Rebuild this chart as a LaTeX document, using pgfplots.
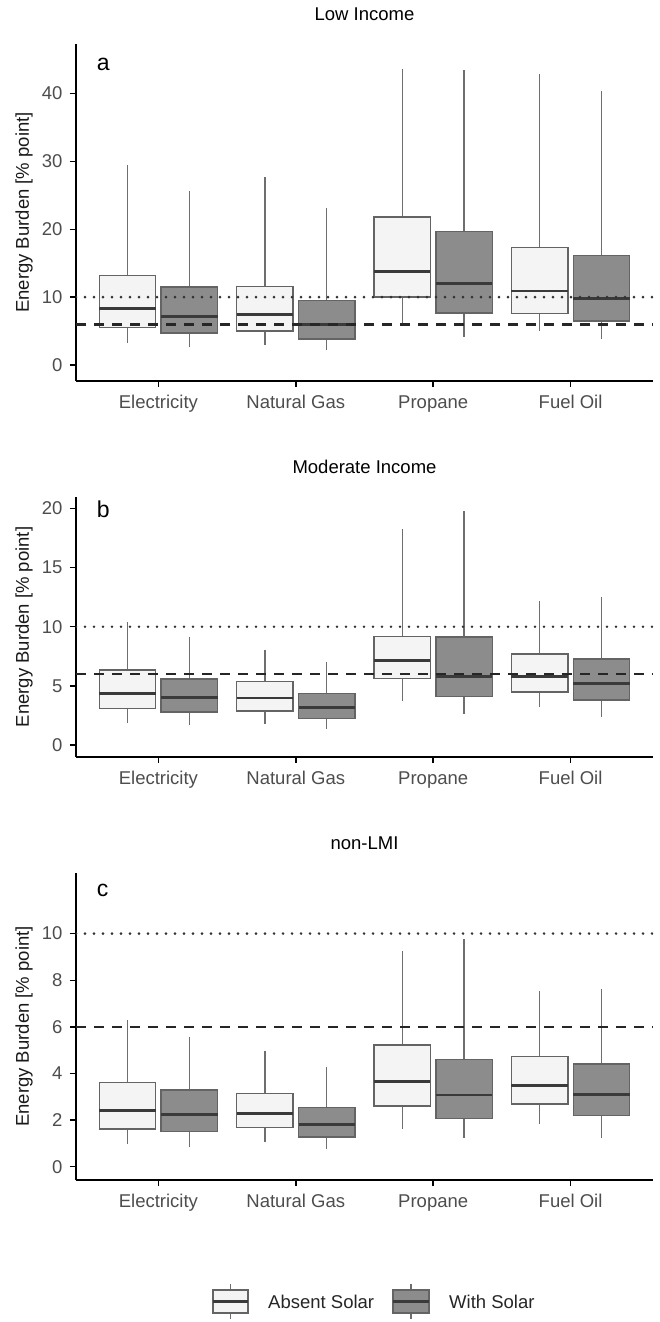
\documentclass[border=0pt]{standalone}
\usepackage{pgfplots}
\pgfplotsset{compat=1.18}
\usepgfplotslibrary{statistics}
\usepackage{fontspec}
\setmainfont{Liberation Sans}
\definecolor{absentfill}{RGB}{244,244,244}
\definecolor{withfill}{RGB}{140,140,140}
\definecolor{boxline}{RGB}{100,100,100}
\definecolor{medline}{RGB}{58,58,58}
\definecolor{whisk}{RGB}{110,110,110}
\definecolor{ticktext}{RGB}{77,77,77}

% \bx{draw position}{lower whisker}{lower quartile}{median}{upper quartile}{upper whisker}{fill}
\newcommand{\bx}[7]{%
  \addplot[boxplot prepared={draw position=#1, lower whisker=#2,
    lower quartile=#3, median=#4, upper quartile=#5, upper whisker=#6},
    boxplot/every box/.append style={fill=#7}] coordinates {};}
\newcommand{\refs}{%
  \addplot[refdot] coordinates {(0.4,10) (4.6,10)};
  \addplot[refdash] coordinates {(0.4,6) (4.6,6)};}

\pgfplotsset{
  panel/.style={
    scale only axis, width=577pt,
    xmin=0.4, xmax=4.6,
    axis x line=bottom, axis y line=left,
    axis line style={-, line width=1.6pt, black},
    xtick={1,2,3,4},
    xticklabels={Electricity,Natural Gas,Propane,Fuel Oil},
    tick align=outside, major tick length=6pt,
    tick style={line width=1.4pt, black},
    ticklabel style={font=\fontsize{18.5}{21}\selectfont, text=ticktext},
    /pgf/number format/assume math mode=true,
    xticklabel style={yshift=-5pt},
    yticklabel style={xshift=-4pt},
    ylabel={Energy Burden [\% point]},
    ylabel style={at={(axis description cs:-0.090,0.5)}, anchor=center,
      font=\fontsize{18.5}{21}\selectfont, text=black!90},
    title style={at={(axis description cs:0.5,1)}, anchor=center, yshift=24pt,
      font=\fontsize{18.5}{21}\selectfont, text=black},
    boxplot/draw direction=y,
    boxplot/every box/.style={draw=boxline, line width=1.4pt},
    boxplot/every whisker/.style={draw=whisk, line width=1.3pt},
    boxplot/every median/.style={draw=medline, line width=2.8pt},
    boxplot/whisker extend=0,
    boxplot/box extend=0.41,
  },
  refdot/.style={line width=2.8pt, black!80, dash pattern=on 0pt off 9pt, line cap=round},
  refdash/.style={line width=2.5pt, black!85, dash pattern=on 10pt off 8pt},
}

\begin{document}
\begin{tikzpicture}
\useasboundingbox (0,0) rectangle (659pt,1322pt);

\begin{axis}[panel, at={(76pt,941pt)}, anchor=south west, height=337pt,
  ymin=-2.36, ymax=47.3, ytick={0,10,20,30,40}, title={Low Income}]
\bx{0.775}{3.2}{5.5}{8.3}{13.2}{29.4}{absentfill}
\bx{1.225}{2.6}{4.7}{7.1}{11.5}{25.6}{withfill}
\bx{1.775}{3.0}{5.0}{7.45}{11.6}{27.7}{absentfill}
\bx{2.225}{2.2}{3.8}{6.0}{9.5}{23.2}{withfill}
\bx{2.775}{6.0}{10.0}{13.8}{21.8}{43.6}{absentfill}
\bx{3.225}{4.1}{7.65}{12.0}{19.7}{43.5}{withfill}
\bx{3.775}{5.0}{7.55}{10.9}{17.3}{42.9}{absentfill}
\bx{4.225}{3.9}{6.5}{9.75}{16.1}{40.3}{withfill}
\refs
\node[anchor=base west, inner sep=0pt, font=\fontsize{23}{26}\selectfont]
  at (axis description cs:0.036,0.922) {a};
\end{axis}

\begin{axis}[panel, at={(76pt,565pt)}, anchor=south west, height=260pt,
  ymin=-1.01, ymax=20.96, ytick={0,5,10,15,20}, title={Moderate Income}]
\bx{0.775}{1.9}{3.1}{4.37}{6.34}{10.4}{absentfill}
\bx{1.225}{1.66}{2.8}{4.0}{5.58}{9.1}{withfill}
\bx{1.775}{1.77}{2.87}{3.97}{5.38}{8.06}{absentfill}
\bx{2.225}{1.32}{2.23}{3.18}{4.34}{6.99}{withfill}
\bx{2.775}{3.72}{5.63}{7.15}{9.15}{18.25}{absentfill}
\bx{3.225}{2.65}{4.08}{5.77}{9.13}{19.8}{withfill}
\bx{3.775}{3.18}{4.48}{5.77}{7.69}{12.2}{absentfill}
\bx{4.225}{2.34}{3.8}{5.18}{7.27}{12.5}{withfill}
\refs
\node[anchor=base west, inner sep=0pt, font=\fontsize{23}{26}\selectfont]
  at (axis description cs:0.036,0.922) {b};
\end{axis}

\begin{axis}[panel, at={(76pt,142pt)}, anchor=south west, height=307pt,
  ymin=-0.57, ymax=12.6, ytick={0,2,4,6,8,10}, title={non-LMI}]
\bx{0.775}{0.96}{1.62}{2.42}{3.6}{6.3}{absentfill}
\bx{1.225}{0.86}{1.5}{2.25}{3.29}{5.55}{withfill}
\bx{1.775}{1.04}{1.67}{2.29}{3.15}{4.98}{absentfill}
\bx{2.225}{0.74}{1.27}{1.82}{2.55}{4.26}{withfill}
\bx{2.775}{1.63}{2.6}{3.66}{5.22}{9.27}{absentfill}
\bx{3.225}{1.22}{2.06}{3.08}{4.61}{9.76}{withfill}
\bx{3.775}{1.83}{2.69}{3.5}{4.72}{7.54}{absentfill}
\bx{4.225}{1.22}{2.2}{3.1}{4.41}{7.61}{withfill}
\refs
\node[anchor=base west, inner sep=0pt, font=\fontsize{23}{26}\selectfont]
  at (axis description cs:0.036,0.922) {c};
\end{axis}

% legend
\draw[whisk, line width=1.3pt] (230.5pt,3pt) -- (230.5pt,38pt);
\draw[boxline, line width=1.4pt, fill=absentfill] (213pt,9pt) rectangle (248pt,32pt);
\draw[medline, line width=2.2pt] (213pt,20.5pt) -- (248pt,20.5pt);
\node[anchor=west, inner sep=0pt, font=\fontsize{18.5}{21}\selectfont, text=black!85]
  at (268pt,20.5pt) {Absent Solar};
\draw[whisk, line width=1.3pt] (411pt,3pt) -- (411pt,38pt);
\draw[boxline, line width=1.4pt, fill=withfill] (393pt,9pt) rectangle (429pt,32pt);
\draw[medline, line width=2.2pt] (393pt,20.5pt) -- (429pt,20.5pt);
\node[anchor=west, inner sep=0pt, font=\fontsize{18.5}{21}\selectfont, text=black!85]
  at (449pt,20.5pt) {With Solar};
\end{tikzpicture}
\end{document}
